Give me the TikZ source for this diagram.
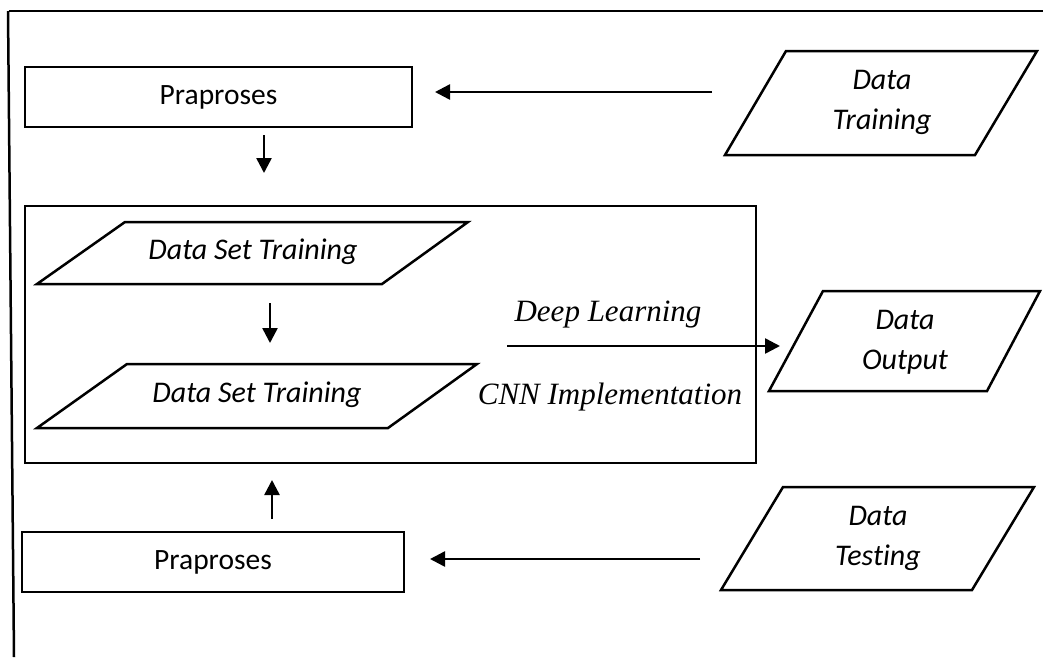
\documentclass[tikz,border=0pt]{standalone}
\usepackage{fontspec}
\setmainfont{Carlito}[Ligatures=NoCommon]
\newfontfamily\timesfont{Liberation Serif}
\usetikzlibrary{arrows.meta}
\begin{document}
\begin{tikzpicture}[x=1pt,y=-1pt, line width=2.5pt, line join=miter,
  procbox/.style={draw, line width=2.5pt, inner sep=0pt, font=\fontsize{29.5}{40}\selectfont},
  para/.style={draw, line width=2.5pt},
  ilbl/.style={inner sep=0pt, align=center, font=\fontsize{30}{40}\selectfont\itshape},
  tlbl/.style={inner sep=0pt, font=\fontsize{31}{36}\timesfont\itshape},
  arr/.style={-{Triangle[length=15pt,width=15pt]}, line width=2.5pt}]
\useasboundingbox (0,0) rectangle (1043,657);
% outer frame lines
\draw (9,11) -- (1043,11);
\draw (8,11) -- (14,657);

% Preprocess boxes
\node[procbox, minimum width=387pt, minimum height=60pt] (pp1) at (218.5,97) {Praproses};
\node[procbox, minimum width=382pt, minimum height=60pt] (pp2) at (213,562) {Praproses};

% big box
\node[draw, line width=2.5pt, minimum width=731pt, minimum height=257pt, inner sep=0pt] (big) at (390.5,334.5) {};

% Data Training parallelogram
\draw[para] (786,51) -- (1037,51) -- (975,155) -- (725,155) -- cycle;
\node[ilbl] (dtr) at (882,102) {Data\\Training};

% Data Testing parallelogram
\draw[para] (783,487) -- (1034,487) -- (972,590) -- (721,590) -- cycle;
\node[ilbl] (dte) at (878,538) {Data\\Testing};

% Data Output parallelogram
\draw[para] (823,291) -- (1040,291) -- (987,391) -- (769,391) -- cycle;
\node[ilbl] (dout) at (905,342) {Data\\Output};

% Data Set Training parallelograms
\draw[para] (125,222) -- (468,222) -- (382,284) -- (37,284) -- cycle;
\node[ilbl] (dst1) at (253,252) {Data Set Training};
\draw[para] (127,364) -- (477,364) -- (388,428) -- (37,428) -- cycle;
\node[ilbl] (dst2) at (257,395) {Data Set Training};

% Deep learning labels
\node[tlbl] (dl) at (608,315) {Deep Learning};
\node[tlbl] (cnn) at (610,397) {CNN Implementation};

% arrows
\coordinate (a1s) at (712,92);
\coordinate (a1e) at (435,92);
\draw[arr] (a1s) -- (a1e);

\coordinate (a2s) at (264,135);
\coordinate (a2e) at (264,173);
\draw[arr] (a2s) -- (a2e);

\coordinate (a3s) at (270,303);
\coordinate (a3e) at (270,343);
\draw[arr] (a3s) -- (a3e);

\coordinate (a4s) at (507,346);
\coordinate (a4e) at (780,346);
\draw[arr] (a4s) -- (a4e);

\coordinate (a5s) at (272,519);
\coordinate (a5e) at (272,480);
\draw[arr] (a5s) -- (a5e);

\coordinate (a6s) at (700,559);
\coordinate (a6e) at (430,559);
\draw[arr] (a6s) -- (a6e);
\end{tikzpicture}
\end{document}
